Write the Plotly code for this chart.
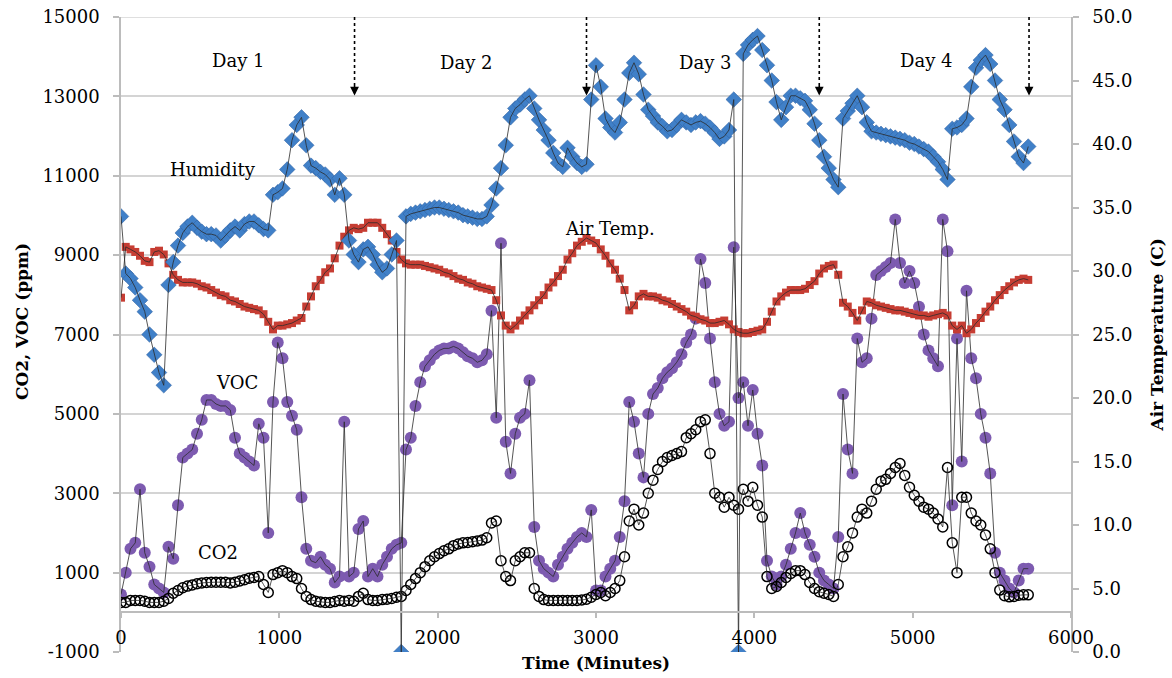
import plotly.graph_objects as go

# ---------------- data ----------------
minutes = list(range(0, 5760, 30))  # sampling time, minutes

humidity = [
    34.3, 29.8, 29.4, 28.7, 27.7, 26.8, 25.0, 23.4, 22.0, 21.0,
    28.9, 30.7, 32.0, 33.0, 33.5, 33.8, 33.4, 33.1, 32.9, 32.9,
    32.8, 32.4, 32.8, 33.2, 33.5, 33.2, 33.7, 33.9, 33.9, 33.6,
    33.3, 33.2, 36.0, 36.2, 36.5, 38.0, 40.3, 41.5, 42.1, 39.9,
    38.3, 38.1, 37.8, 37.6, 37.2, 36.0, 37.3, 36.0, 32.4, 31.3,
    30.7, 31.7, 31.9, 31.3, 30.5, 29.9, 30.2, 31.3, 32.4, 0.0,
    34.3, 34.5, 34.6, 34.7, 34.8, 34.9, 35.0, 35.0, 34.9, 34.8,
    34.7, 34.6, 34.4, 34.3, 34.2, 34.1, 34.1, 34.3, 35.2, 36.5,
    38.1, 39.9, 42.1, 42.8, 43.1, 43.5, 43.8, 42.8, 41.9, 41.1,
    40.3, 39.3, 38.5, 38.2, 39.7, 39.0, 38.5, 38.2, 38.4, 43.5,
    46.2, 44.5, 42.0, 41.3, 40.9, 41.7, 43.5, 45.6, 46.4, 45.5,
    43.9, 42.7, 42.2, 41.7, 41.4, 41.0, 41.1, 41.5, 41.9, 41.7,
    41.5, 41.7, 41.8, 41.6, 41.3, 40.9, 40.4, 40.6, 41.1, 43.5,
    0.0, 47.1, 47.8, 48.2, 48.5, 47.4, 46.2, 45.0, 43.3, 41.9,
    42.9, 43.8, 43.8, 43.6, 43.4, 42.7, 41.6, 40.3, 39.0, 38.1,
    37.2, 36.6, 42.0, 42.6, 43.2, 43.8, 42.9, 41.7, 41.0, 40.9,
    40.8, 40.7, 40.6, 40.5, 40.4, 40.3, 40.1, 40.0, 39.8, 39.6,
    39.4, 39.0, 38.6, 38.0, 37.2, 41.2, 41.3, 41.5, 42.0, 44.5,
    46.0, 46.6, 47.0, 46.3, 45.0, 43.5, 42.7, 41.5, 40.2, 39.0,
    38.5, 39.8,
]

air_temp = [
    27.9, 31.9, 31.7, 31.5, 31.2, 30.8, 30.7, 31.5, 31.6, 31.3,
    30.6, 29.7, 29.3, 29.1, 29.1, 29.1, 29.0, 28.8, 28.7, 28.5,
    28.3, 28.1, 28.0, 27.7, 27.6, 27.4, 27.2, 27.1, 27.0, 26.9,
    26.6, 26.0, 25.4, 25.7, 25.7, 25.8, 25.9, 26.1, 26.3, 27.2,
    28.0, 28.8, 29.3, 29.9, 30.2, 31.0, 32.0, 32.7, 33.2, 33.4,
    33.3, 33.4, 33.8, 33.8, 33.8, 33.4, 32.9, 32.4, 31.5, 30.9,
    30.6, 30.5, 30.5, 30.5, 30.4, 30.3, 30.2, 30.1, 29.9, 29.8,
    29.6, 29.4, 29.3, 29.1, 29.0, 28.8, 28.7, 28.6, 28.5, 27.7,
    26.5, 25.7, 25.4, 25.7, 26.1, 26.5, 26.9, 27.3, 27.7, 28.1,
    28.7, 29.1, 29.6, 30.1, 30.9, 31.4, 32.0, 32.3, 32.6, 32.4,
    32.2, 31.7, 31.2, 30.6, 30.1, 29.4, 28.5, 26.9, 27.3, 28.0,
    28.2, 28.0, 28.0, 27.9, 27.7, 27.6, 27.4, 27.2, 27.0, 26.8,
    26.5, 26.4, 26.2, 26.1, 25.9, 25.9, 26.0, 26.1, 25.8, 25.4,
    25.2, 25.1, 25.1, 25.2, 25.3, 25.4, 26.0, 26.8, 27.6, 28.0,
    28.3, 28.5, 28.5, 28.5, 28.6, 28.9, 29.2, 29.8, 30.2, 30.4,
    30.5, 29.7, 27.5, 27.2, 26.7, 26.1, 26.9, 27.6, 27.5, 27.3,
    27.2, 27.1, 27.0, 26.9, 26.9, 26.8, 26.7, 26.6, 26.5, 26.5,
    26.4, 26.5, 26.6, 26.7, 26.5, 25.7, 25.4, 25.7, 25.1, 25.4,
    25.9, 26.3, 26.8, 27.2, 27.7, 28.1, 28.5, 28.8, 29.1, 29.3,
    29.4, 29.3,
]

voc = [
    450, 1000, 1600, 1750, 3100, 1500, 1150, 700, 600, 500,
    1650, 1350, 2700, 3900, 4000, 4100, 4500, 4850, 5350, 5350,
    5250, 5200, 5200, 5100, 4400, 4000, 3900, 3800, 3700, 4750,
    4400, 2000, 5300, 6800, 6400, 5300, 4950, 4600, 2900, 1600,
    1300, 1250, 1400, 1200, 1100, 750, 900, 4800, 900, 1000,
    2100, 2300, 900, 1100, 900, 1200, 1400, 1600, 1700, 1750,
    4100, 4400, 5200, 5800, 6200, 6350, 6500, 6600, 6650, 6650,
    6700, 6650, 6550, 6450, 6400, 6300, 6350, 6500, 7600, 4900,
    9300, 4300, 3500, 4500, 4900, 5000, 5850, 2150, 1300, 1100,
    1000, 900, 1200, 1400, 1600, 1750, 1900, 2000, 1900, 2580,
    550, 550, 900, 1100, 1300, 1900, 2800, 5300, 4800, 4000,
    3400, 5000, 5500, 5650, 5900, 6050, 6150, 6300, 6500, 6800,
    7000, 7400, 8900, 8300, 6900, 5800, 5000, 4700, 4800, 9200,
    5400, 5800, 4700, 5600, 4500, 3700, 1300, 900, 700, 900,
    1200, 1600, 2000, 2500, 2000, 1700, 1400, 1000, 800, 700,
    600, 1900, 5500, 4100, 3500, 6900, 6300, 6400, 7400, 8500,
    8600, 8700, 8800, 9900, 8800, 8300, 8600, 8300, 7700, 7000,
    6600, 6400, 6200, 9900, 9100, 2700, 6900, 3800, 8100, 6400,
    5900, 5000, 4400, 3500, 1500, 1000, 800, 600, 500, 800,
    1100, 1100,
]

co2 = [
    250, 250, 300, 300, 300, 280, 250, 250, 250, 280,
    350, 480, 550, 620, 660, 690, 720, 740, 750, 760,
    760, 760, 760, 740, 760, 790, 820, 860, 880, 900,
    700, 500, 950, 1000, 1050, 1000, 900, 850, 600, 400,
    320, 280, 260, 250, 250, 270, 300, 280, 300, 280,
    400, 480, 320, 300, 300, 320, 330, 350, 380, 400,
    550, 700, 850, 1000, 1150, 1300, 1400, 1480, 1550, 1600,
    1680, 1720, 1750, 1760, 1780, 1800, 1820, 1880, 2250, 2300,
    1300, 900, 800, 1300, 1400, 1500, 1500, 600, 400, 320,
    300, 300, 300, 300, 300, 300, 300, 310, 330, 380,
    450, 500, 420, 500, 600, 800, 1400, 2300, 2600, 2200,
    2500, 3000, 3330, 3600, 3800, 3900, 3950, 4000, 4050, 4400,
    4500, 4600, 4800, 4850, 4000, 3000, 2900, 2650, 2900, 2700,
    2600, 3100, 2800, 3150, 2700, 2400, 900, 600, 650, 750,
    880, 980, 1050, 1050, 950, 750, 600, 520, 480, 450,
    400, 700, 1400, 1650, 2000, 2400, 2600, 2500, 2800, 3100,
    3300, 3350, 3500, 3650, 3750, 3450, 3150, 2950, 2800, 2650,
    2600, 2500, 2350, 2150, 3650, 1750, 1000, 2900, 2900, 2500,
    2300, 2200, 1950, 1600, 1000, 560, 420, 390, 400, 430,
    440, 440,
]

x_ticks = [0, 1000, 2000, 3000, 4000, 5000, 6000]
y_ticks = [-1000, 1000, 3000, 5000, 7000, 9000, 11000, 13000, 15000]
y_tick_text = ["-1000", "1000", "3000", "5000", "7000", "9000", "11000", "13000", "15000"]

day_labels = ["Day 1", "Day 2", "Day 3", "Day 4"]
day_label_x = [740, 2180, 3690, 5090]
day_label_y = [13900, 13850, 13850, 13900]
day_marks = [1475, 2940, 4410, 5735]

series_labels = ["Humidity", "Air Temp.", "VOC", "CO2"]
series_label_x = [580, 3090, 730, 610]
series_label_y = [11150, 9680, 5800, 1500]

# ---------------- styling ----------------
FONT = "DejaVu Serif"
BLUE = "#4080C8"
RED = "#C63D33"
PURPLE = "#7D5BB0"
LINE = "#2a2a2a"
GRID = "#d4d4d4"
AXIS = "#bcbcbc"

fig = go.Figure()

# left axis series (drawn below)
fig.add_trace(go.Scatter(x=minutes, y=voc, mode="markers", name="VOC",
                         marker=dict(symbol="circle", size=12, color=PURPLE,
                                     line=dict(width=0))))
fig.add_trace(go.Scatter(x=minutes, y=voc, mode="lines", showlegend=False,
                         line=dict(color=LINE, width=0.8)))
fig.add_trace(go.Scatter(x=minutes, y=co2, mode="markers", name="CO2",
                         marker=dict(symbol="circle-open", size=10, color="black",
                                     line=dict(width=1.5, color="black"))))
fig.add_trace(go.Scatter(x=minutes, y=co2, mode="lines", showlegend=False,
                         line=dict(color=LINE, width=0.8)))

# right axis series
fig.add_trace(go.Scatter(x=minutes, y=air_temp, mode="markers", name="Air Temp.",
                         yaxis="y2",
                         marker=dict(symbol="square", size=8, color=RED,
                                     line=dict(width=0))))
fig.add_trace(go.Scatter(x=minutes, y=air_temp, mode="lines", showlegend=False,
                         yaxis="y2", line=dict(color=LINE, width=0.8)))
fig.add_trace(go.Scatter(x=minutes, y=humidity, mode="markers", name="Humidity",
                         yaxis="y2",
                         marker=dict(symbol="diamond", size=12, color=BLUE,
                                     line=dict(width=0.5, color="#2f5f9e"))))
fig.add_trace(go.Scatter(x=minutes, y=humidity, mode="lines", showlegend=False,
                         yaxis="y2", line=dict(color=LINE, width=0.8)))

annotations = []
for lab, x, y in zip(day_labels, day_label_x, day_label_y):
    annotations.append(dict(x=x, y=y, xref="x", yref="y", text=lab, showarrow=False,
                            font=dict(family=FONT, size=18, color="black")))
for lab, x, y in zip(series_labels, series_label_x, series_label_y):
    annotations.append(dict(x=x, y=y, xref="x", yref="y", text=lab, showarrow=False,
                            font=dict(family=FONT, size=18, color="black")))

shapes = []
for m in day_marks:
    shapes.append(dict(type="line", xref="x", yref="y", x0=m, x1=m, y0=15000, y1=13250,
                       line=dict(color="black", width=1.6, dash="dot")))
    annotations.append(dict(x=m, y=13020, ax=m, ay=13300, xref="x", yref="y",
                            axref="x", ayref="y", text="", showarrow=True,
                            arrowhead=2, arrowsize=1.1, arrowwidth=1.6,
                            arrowcolor="black"))
# top border gridline at the top of the left axis range
shapes.append(dict(type="line", xref="paper", yref="y", x0=0, x1=1, y0=15000, y1=15000,
                   line=dict(color=GRID, width=1.5), layer="below"))

annotations.append(dict(text="<b>CO2, VOC (ppm)</b>", xref="paper", yref="paper",
                        x=-0.104, y=0.52, textangle=-90, showarrow=False,
                        xanchor="center", yanchor="middle",
                        font=dict(family=FONT, size=17, color="black")))
annotations.append(dict(text="<b>Air Temperature (C)</b>", xref="paper", yref="paper",
                        x=1.0905, y=0.50, textangle=-90, showarrow=False,
                        xanchor="center", yanchor="middle",
                        font=dict(family=FONT, size=17, color="black")))
annotations.append(dict(text="<b>Time (Minutes)</b>", xref="paper", yref="paper",
                        x=0.5, y=-0.017, showarrow=False,
                        xanchor="center", yanchor="middle",
                        font=dict(family=FONT, size=17, color="black")))

fig.update_layout(
    width=1172, height=678,
    margin=dict(l=121, r=101, t=17, b=26, autoexpand=False),
    plot_bgcolor="white", paper_bgcolor="white",
    showlegend=False,
    font=dict(family=FONT, size=18, color="black"),
    xaxis=dict(range=[0, 6000], tickvals=x_ticks, showgrid=False, zeroline=False,
               showline=True, linecolor=AXIS, linewidth=1.5,
               ticks="outside", ticklen=5, tickcolor=AXIS, tickwidth=1.5,
               anchor="free", position=1 / 16, ticklabelstandoff=4,
               automargin=False, ticklabeloverflow="allow",
               tickfont=dict(family=FONT, size=18, color="black")),
    yaxis=dict(range=[-1000, 15000], tickvals=y_ticks, ticktext=y_tick_text,
               showgrid=True, gridcolor=GRID, gridwidth=1.5, zeroline=False,
               showline=True, linecolor=AXIS, linewidth=1.5,
               ticks="outside", ticklen=6, tickcolor=AXIS, tickwidth=1.5,
               ticklabelstandoff=10, automargin=False, ticklabeloverflow="allow",
               tickfont=dict(family=FONT, size=18, color="black")),
    yaxis2=dict(range=[0, 50], tick0=0, dtick=5, tickformat=".1f",
                overlaying="y", side="right", showgrid=False, zeroline=False,
                showline=True, linecolor=AXIS, linewidth=1.5,
                ticks="outside", ticklen=6, tickcolor=AXIS, tickwidth=1.5,
                ticklabelstandoff=10, automargin=False, ticklabeloverflow="allow",
                tickfont=dict(family=FONT, size=18, color="black")),
    annotations=annotations,
    shapes=shapes,
)

# remove the default 8 px page margin so the figure fills the window exactly
fig.write_html("out.html",
               config={"displayModeBar": False},
               post_script="document.body.style.margin='0';"
                           "document.body.style.overflow='hidden';")
